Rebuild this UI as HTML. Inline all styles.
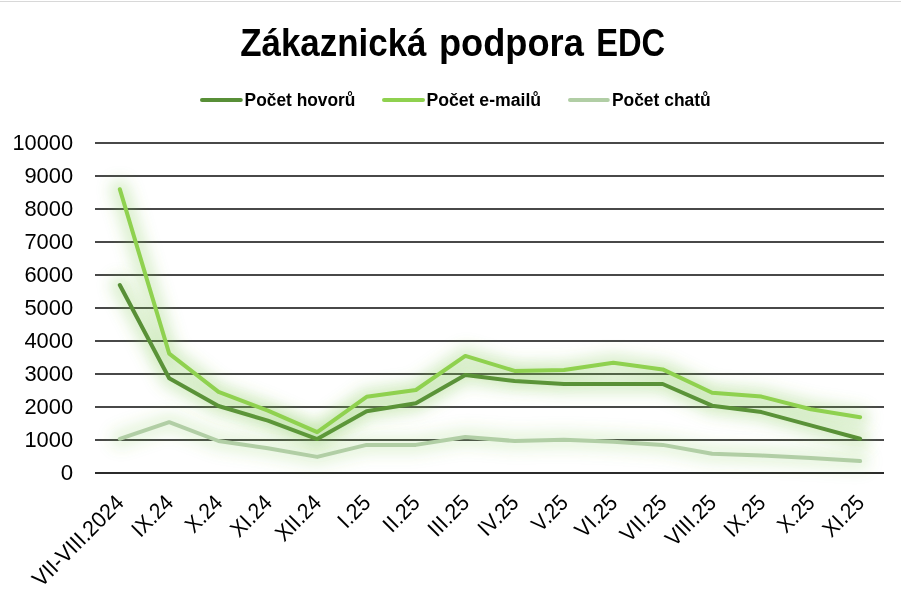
<!DOCTYPE html>
<html lang="cs">
<head>
<meta charset="utf-8">
<title>Zákaznická podpora EDC</title>
<style>
html,body{margin:0;padding:0;background:#fff;}
body{width:901px;height:590px;overflow:hidden;}
svg{display:block;}
text{font-family:"Liberation Sans",sans-serif;fill:#000;}
.t{font-weight:bold;font-size:39.1px;}
.lg{font-weight:bold;font-size:18.3px;}
.ax{font-size:22.3px;}
</style>
</head>
<body>
<svg width="901" height="590" viewBox="0 0 901 590">
<defs>
<filter id="glow" filterUnits="userSpaceOnUse" x="0" y="100" width="901" height="420"><feGaussianBlur stdDeviation="7"/></filter>
</defs>
<rect x="0" y="0" width="901" height="590" fill="#fff"/>
<rect x="0" y="1" width="901" height="1" fill="#d8d8d8"/>
<text class="t" y="56.0"><tspan x="240.2" textLength="186.3" lengthAdjust="spacingAndGlyphs">Zákaznická</tspan> <tspan x="439.0" textLength="144.8" lengthAdjust="spacingAndGlyphs">podpora</tspan> <tspan x="596.2" textLength="69.0" lengthAdjust="spacingAndGlyphs">EDC</tspan></text>
<line x1="202.0" y1="100" x2="240.8" y2="100" stroke="#588F37" stroke-width="4" stroke-linecap="round"/>
<text class="lg" x="244.6" y="106.0" textLength="110.8" lengthAdjust="spacingAndGlyphs">Počet hovorů</text>
<line x1="384.0" y1="100" x2="423.0" y2="100" stroke="#8fd14f" stroke-width="4" stroke-linecap="round"/>
<text class="lg" x="426.4" y="106.0" textLength="114.7" lengthAdjust="spacingAndGlyphs">Počet e-mailů</text>
<line x1="570.0" y1="100" x2="607.8" y2="100" stroke="#B1CEA5" stroke-width="4" stroke-linecap="round"/>
<text class="lg" x="611.9" y="106.0" textLength="98.8" lengthAdjust="spacingAndGlyphs">Počet chatů</text>
<g stroke="#484848" stroke-width="2">
<line x1="95.0" y1="440" x2="884.0" y2="440"/>
<line x1="95.0" y1="407" x2="884.0" y2="407"/>
<line x1="95.0" y1="374" x2="884.0" y2="374"/>
<line x1="95.0" y1="341" x2="884.0" y2="341"/>
<line x1="95.0" y1="308" x2="884.0" y2="308"/>
<line x1="95.0" y1="275" x2="884.0" y2="275"/>
<line x1="95.0" y1="242" x2="884.0" y2="242"/>
<line x1="95.0" y1="209" x2="884.0" y2="209"/>
<line x1="95.0" y1="176" x2="884.0" y2="176"/>
<line x1="95.0" y1="143" x2="884.0" y2="143"/>
</g>
<line x1="95.0" y1="473" x2="884.0" y2="473" stroke="#2b2b2b" stroke-width="2"/>
<g class="ax" text-anchor="end">
<text x="73.1" y="480.30" textLength="12.4" lengthAdjust="spacingAndGlyphs">0</text>
<text x="73.1" y="447.30" textLength="48.7" lengthAdjust="spacingAndGlyphs">1000</text>
<text x="73.1" y="414.30" textLength="48.7" lengthAdjust="spacingAndGlyphs">2000</text>
<text x="73.1" y="381.30" textLength="48.7" lengthAdjust="spacingAndGlyphs">3000</text>
<text x="73.1" y="348.30" textLength="48.7" lengthAdjust="spacingAndGlyphs">4000</text>
<text x="73.1" y="315.30" textLength="48.7" lengthAdjust="spacingAndGlyphs">5000</text>
<text x="73.1" y="282.30" textLength="48.7" lengthAdjust="spacingAndGlyphs">6000</text>
<text x="73.1" y="249.30" textLength="48.7" lengthAdjust="spacingAndGlyphs">7000</text>
<text x="73.1" y="216.30" textLength="48.7" lengthAdjust="spacingAndGlyphs">8000</text>
<text x="73.1" y="183.30" textLength="48.7" lengthAdjust="spacingAndGlyphs">9000</text>
<text x="73.1" y="150.30" textLength="60.6" lengthAdjust="spacingAndGlyphs">10000</text>
</g>
<polyline points="119.8,285.0 169.2,378.3 218.5,406.0 267.9,420.7 317.2,439.0 366.6,411.3 415.9,403.2 465.3,375.0 514.6,381.1 564.0,384.0 613.3,384.0 662.7,384.0 712.1,405.7 761.4,412.1 810.8,425.4 860.1,438.8" fill="none" stroke="#78C445" stroke-opacity="0.25" stroke-width="20" stroke-linecap="round" stroke-linejoin="round" filter="url(#glow)"/>
<polyline points="119.8,285.0 169.2,378.3 218.5,406.0 267.9,420.7 317.2,439.0 366.6,411.3 415.9,403.2 465.3,375.0 514.6,381.1 564.0,384.0 613.3,384.0 662.7,384.0 712.1,405.7 761.4,412.1 810.8,425.4 860.1,438.8" fill="none" stroke="#588F37" stroke-width="4.0" stroke-linecap="round" stroke-linejoin="round"/>
<polyline points="119.8,189.2 169.2,353.6 218.5,391.8 267.9,410.6 317.2,432.2 366.6,396.8 415.9,390.0 465.3,355.9 514.6,370.9 564.0,370.1 613.3,362.8 662.7,369.4 712.1,392.8 761.4,396.6 810.8,409.3 860.1,417.2" fill="none" stroke="#78C445" stroke-opacity="0.25" stroke-width="20" stroke-linecap="round" stroke-linejoin="round" filter="url(#glow)"/>
<polyline points="119.8,189.2 169.2,353.6 218.5,391.8 267.9,410.6 317.2,432.2 366.6,396.8 415.9,390.0 465.3,355.9 514.6,370.9 564.0,370.1 613.3,362.8 662.7,369.4 712.1,392.8 761.4,396.6 810.8,409.3 860.1,417.2" fill="none" stroke="#8fd14f" stroke-width="4.0" stroke-linecap="round" stroke-linejoin="round"/>
<polyline points="119.8,438.8 169.2,422.2 218.5,441.0 267.9,448.2 317.2,456.9 366.6,444.9 415.9,444.9 465.3,437.0 514.6,441.0 564.0,439.8 613.3,441.8 662.7,444.9 712.1,453.8 761.4,455.5 810.8,458.1 860.1,461.1" fill="none" stroke="#78C445" stroke-opacity="0.16" stroke-width="20" stroke-linecap="round" stroke-linejoin="round" filter="url(#glow)"/>
<polyline points="119.8,438.8 169.2,422.2 218.5,441.0 267.9,448.2 317.2,456.9 366.6,444.9 415.9,444.9 465.3,437.0 514.6,441.0 564.0,439.8 613.3,441.8 662.7,444.9 712.1,453.8 761.4,455.5 810.8,458.1 860.1,461.1" fill="none" stroke="#B1CEA5" stroke-width="4.0" stroke-linecap="round" stroke-linejoin="round"/>
<g class="ax" text-anchor="end">
<text transform="translate(125.2 504.1) rotate(-45)" textLength="118.7" lengthAdjust="spacingAndGlyphs">VII-VIII.2024</text>
<text transform="translate(174.6 504.1) rotate(-45)" textLength="48.2" lengthAdjust="spacingAndGlyphs">IX.24</text>
<text transform="translate(223.9 504.1) rotate(-45)" textLength="42.3" lengthAdjust="spacingAndGlyphs">X.24</text>
<text transform="translate(273.3 504.1) rotate(-45)" textLength="48.2" lengthAdjust="spacingAndGlyphs">XI.24</text>
<text transform="translate(322.6 504.1) rotate(-45)" textLength="54.2" lengthAdjust="spacingAndGlyphs">XII.24</text>
<text transform="translate(372.0 504.1) rotate(-45)" textLength="35.9" lengthAdjust="spacingAndGlyphs">I.25</text>
<text transform="translate(421.3 504.1) rotate(-45)" textLength="41.9" lengthAdjust="spacingAndGlyphs">II.25</text>
<text transform="translate(470.7 504.1) rotate(-45)" textLength="47.9" lengthAdjust="spacingAndGlyphs">III.25</text>
<text transform="translate(520.0 504.1) rotate(-45)" textLength="47.0" lengthAdjust="spacingAndGlyphs">IV.25</text>
<text transform="translate(569.4 504.1) rotate(-45)" textLength="41.0" lengthAdjust="spacingAndGlyphs">V.25</text>
<text transform="translate(618.7 504.1) rotate(-45)" textLength="49.4" lengthAdjust="spacingAndGlyphs">VI.25</text>
<text transform="translate(668.1 504.1) rotate(-45)" textLength="55.3" lengthAdjust="spacingAndGlyphs">VII.25</text>
<text transform="translate(717.5 504.1) rotate(-45)" textLength="61.3" lengthAdjust="spacingAndGlyphs">VIII.25</text>
<text transform="translate(766.8 504.1) rotate(-45)" textLength="48.2" lengthAdjust="spacingAndGlyphs">IX.25</text>
<text transform="translate(816.2 504.1) rotate(-45)" textLength="42.3" lengthAdjust="spacingAndGlyphs">X.25</text>
<text transform="translate(865.5 504.1) rotate(-45)" textLength="48.2" lengthAdjust="spacingAndGlyphs">XI.25</text>
</g>
</svg>
</body>
</html>
